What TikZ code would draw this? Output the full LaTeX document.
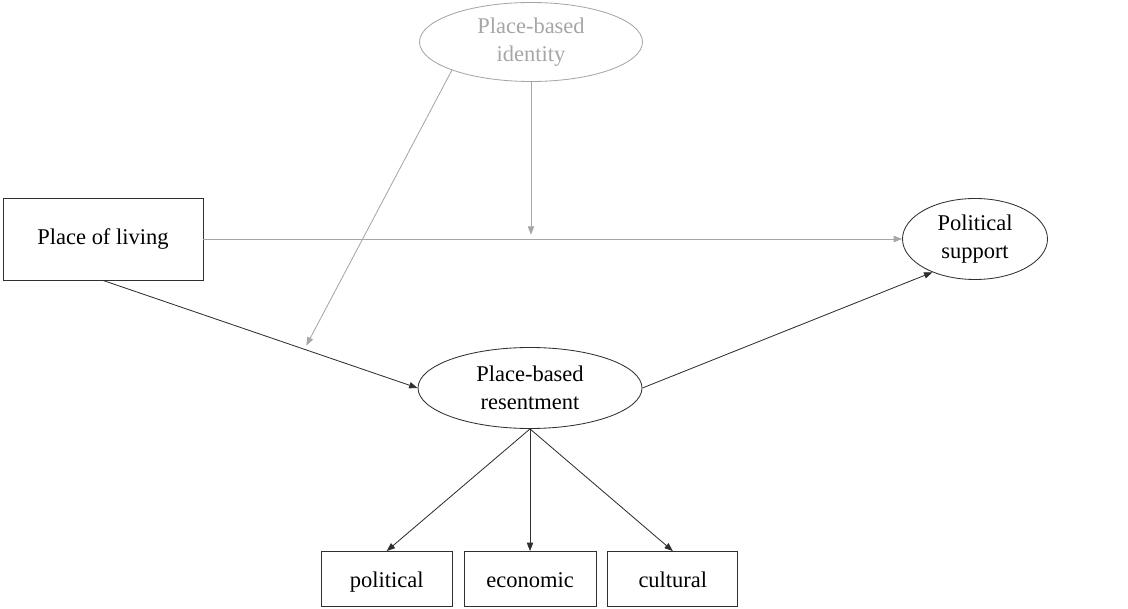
\documentclass[tikz,border=0pt]{standalone}
\usepackage{fontspec}
\setmainfont{Liberation Serif}
\usepackage{tikz}
\usetikzlibrary{arrows.meta, positioning, shapes.geometric}
\definecolor{mygray}{HTML}{A6A6A6}
\definecolor{myline}{HTML}{303030}

\begin{document}
\begin{tikzpicture}[
  box/.style={draw=myline, line width=0.6pt, inner sep=0pt, align=center,
    font=\fontsize{16}{20}\selectfont},
  small/.style={box, minimum height=1.375cm, text height=15pt, text depth=3.5pt},
  oval/.style={ellipse, draw=myline, line width=0.6pt, inner sep=0pt, align=center,
    font=\fontsize{16}{20}\selectfont},
  arr/.style={-{Triangle[length=6pt, width=4.5pt]}, line width=0.6pt, myline},
  garr/.style={-{Triangle[length=6pt, width=4.5pt]}, line width=0.6pt, mygray}
]
\useasboundingbox (0,0) rectangle (28.2,-15.225);
\node[oval, draw=mygray, text=mygray, minimum width=5.575cm, minimum height=1.975cm]
  (ident) at (13.275,-1.05) {Place-based\\identity};
\node[box, minimum width=5cm, minimum height=2.05cm] (living) at (2.575,-5.975) {Place of living};
\node[oval, minimum width=3.625cm, minimum height=2.025cm] (support) at (24.375,-5.975) {Political\\support};
\node[oval, minimum width=5.6cm, minimum height=2.025cm] (resent) at (13.25,-9.7) {Place-based\\resentment};
\node[small, minimum width=3.3cm] (econ) at (13.25,-14.475) {economic};
\node[small, minimum width=3.275cm, left=0.275cm of econ] (polit) {political};
\node[small, minimum width=3.25cm, right=0.275cm of econ] (cult) {cultural};
% points where the moderation arrows end
\coordinate (mod) at (ident.south |- living.east);
\path (living.south) -- (resent.west) coordinate[pos=0.64] (modb);
\draw[garr] (living.east) -- (support.west);
\draw[garr, shorten >=3pt] (ident.south) -- (mod);
\draw[garr, shorten >=3pt] (ident.south west) -- (modb);
\draw[arr] (living.south) -- (resent.west);
\draw[arr] (resent.east) -- (support.218);
\draw[arr] (resent.south) -- (polit.north);
\draw[arr] (resent.south) -- (econ.north);
\draw[arr] (resent.south) -- (cult.north);
\end{tikzpicture}
\end{document}
